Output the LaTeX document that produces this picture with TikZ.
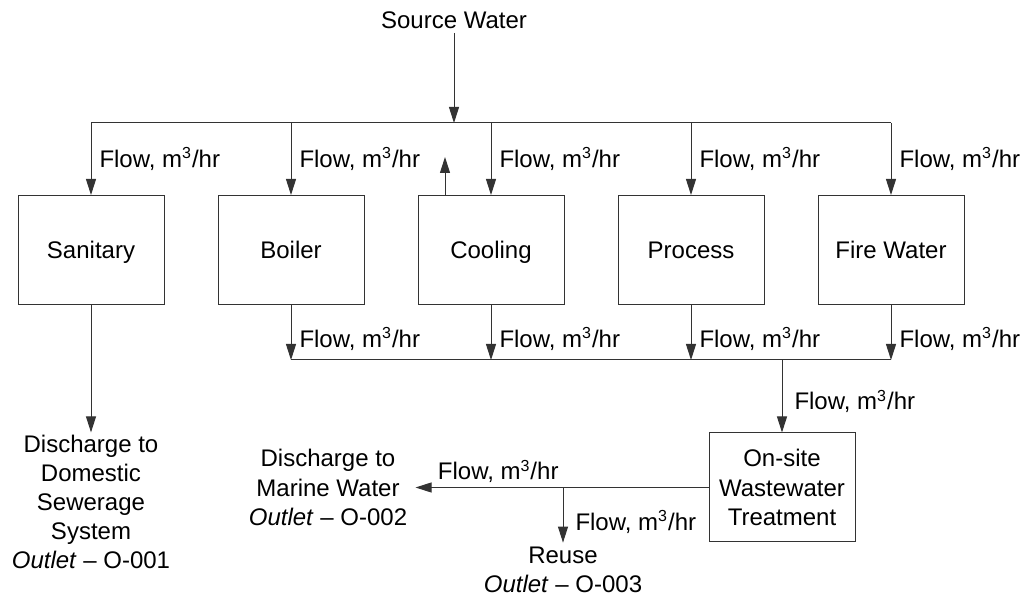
\documentclass[tikz,border=0pt]{standalone}
\usepackage{fontspec}
\setmainfont{Liberation Sans}
\usetikzlibrary{arrows.meta}

\begin{document}
\begin{tikzpicture}[x=0.5pt, y=-0.5pt, font=\fontsize{12}{14.6}\selectfont]
  \tikzstyle{unit}=[rectangle, draw=black!80, line width=0.5pt, minimum width=73pt, minimum height=54.5pt, text height=11.6pt, text depth=2.6pt]
  \tikzstyle{pipe}=[draw=black!80, line width=0.5pt]
  \tikzstyle{flow}=[pipe, -{Triangle[length=8pt, width=5pt]}]
  \tikzstyle{rate}=[right, inner sep=4pt]
  \tikzstyle{sink}=[align=center, inner sep=1pt]
  \useasboundingbox (0,0) rectangle (1029,598);

  \node[inner sep=2pt] (Source) at (454,20) {Source Water};
  \node[unit] (Sanitary) at (91,250) {Sanitary};
  \node[unit] (Boiler) at (291,250) {Boiler};
  \node[unit] (Cooling) at (491,250) {Cooling};
  \node[unit] (Process) at (691,250) {Process};
  \node[unit] (Fire) at (891,250) {Fire Water};
  \node[rectangle, draw=black!80, line width=0.5pt, minimum width=73pt, minimum height=54.5pt, align=center] (Onsite) at (782,487.5) {On-site\\Wastewater\\Treatment};
  \node[sink] (Domestic) at (91,502) {Discharge to\\Domestic\\Sewerage\\System\\\textit{Outlet} \textendash{} O-001};
  \node[sink, inner sep=4pt] (Marine) at (328,487.5) {Discharge to\\Marine Water\\\textit{Outlet} \textendash{} O-002};
  \node[sink, inner sep=2pt] (Reuse) at (563,570) {Reuse\\\textit{Outlet} \textendash{} O-003};

  \coordinate (Inlet) at (454,123);
  \coordinate (Drain) at (782,360);
  \coordinate (Split) at (563,487.5);
  \coordinate (Vapour) at (445,157);

  % supply side
  \draw[flow] (Source) -- (Inlet);
  \draw[pipe] (Sanitary.north |- Inlet) -- (Fire.north |- Inlet);
  \foreach \u in {Sanitary, Boiler, Cooling, Process, Fire}
    \draw[flow] (\u.north |- Inlet) -- node[rate] {Flow, m\textsuperscript{3}/hr} (\u.north);
  \draw[flow] (Cooling.north -| Vapour) -- (Vapour);
  \draw[flow] (Sanitary) -- (Domestic);

  % wastewater side
  \draw[pipe] (Boiler.south |- Drain) -- (Fire.south |- Drain);
  \foreach \u in {Boiler, Cooling, Process, Fire}
    \draw[flow] (\u.south) -- node[rate, pos=0.62] {Flow, m\textsuperscript{3}/hr} (\u.south |- Drain);
  \draw[flow] (Drain) -- node[rate, pos=0.57, inner sep=6pt] {Flow, m\textsuperscript{3}/hr} (Onsite);
  \draw[flow] (Onsite.west) -- (Split) node[anchor=south east, inner sep=2pt] {Flow, m\textsuperscript{3}/hr} -- (Marine.east);
  \draw[flow] (Split) -- node[rate, pos=0.62, inner sep=6pt] {Flow, m\textsuperscript{3}/hr} (Reuse);
\end{tikzpicture}
\end{document}
